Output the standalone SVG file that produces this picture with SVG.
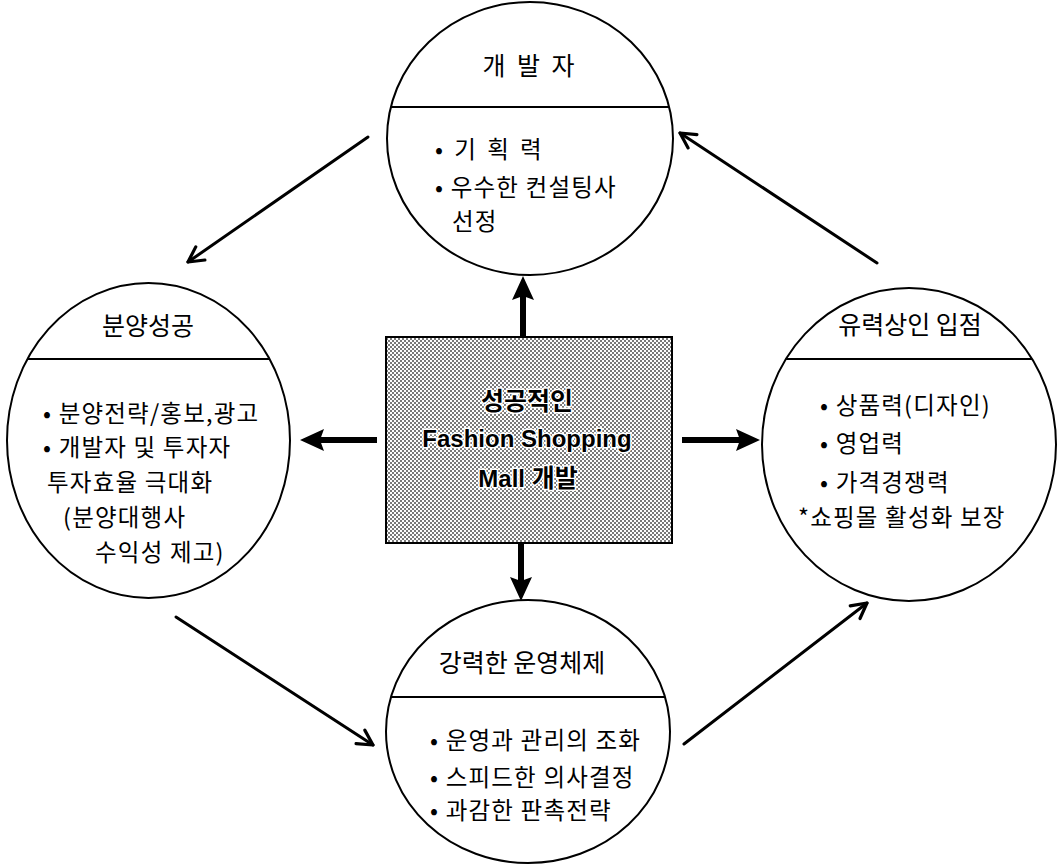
<svg xmlns="http://www.w3.org/2000/svg" width="1057" height="864" viewBox="0 0 1057 864">
<style>
.shape{fill:none;stroke:#000;stroke-width:2}
.div{stroke:#000;stroke-width:2}
.title{font-family:"Noto Sans CJK KR","Noto Sans",sans-serif;font-size:25px;fill:#000;text-anchor:middle}
.item{font-family:"Noto Sans CJK KR","Noto Sans",sans-serif;font-size:23.5px;fill:#000;letter-spacing:1.2px}
.ctext{font-family:"Liberation Sans","Noto Sans CJK KR",sans-serif;font-weight:bold;font-size:24px;fill:#000;text-anchor:middle;stroke:#fff;stroke-width:3px;paint-order:stroke;stroke-linejoin:round}
.bold{stroke:#000;stroke-width:6;fill:none}
.thin{stroke:#000;stroke-width:3;fill:none;stroke-linecap:round}
</style>
<defs>
<pattern id="dots" patternUnits="userSpaceOnUse" width="4" height="4">
<rect width="4" height="4" fill="#fff"/>
<rect x="0" y="0" width="2" height="2" fill="#7a7a7a"/>
<rect x="2" y="2" width="2" height="2" fill="#7a7a7a"/>
</pattern>
<marker id="head-bold" markerUnits="userSpaceOnUse" markerWidth="30" markerHeight="30" viewBox="-2 -13 30 26" refX="12" refY="0" orient="auto">
<path d="M0,-11 L24,0 L0,11 L4,0 Z" fill="#000"/>
</marker>
<marker id="head-open" markerUnits="userSpaceOnUse" markerWidth="24" markerHeight="24" viewBox="-18 -12 22 24" refX="0" refY="0" orient="auto">
<path d="M-15,-8 L0,0 L-15,8" fill="none" stroke="#000" stroke-width="3.2" stroke-linecap="round" stroke-linejoin="round"/>
</marker>
</defs>
<rect width="1057" height="864" fill="#fff"/>

<g id="connectors">
<line class="bold" x1="523" y1="337" x2="523" y2="288" marker-end="url(#head-bold)"/>
<line class="bold" x1="521" y1="543" x2="521" y2="589" marker-end="url(#head-bold)"/>
<line class="bold" x1="377" y1="440" x2="312" y2="440" marker-end="url(#head-bold)"/>
<line class="bold" x1="682" y1="440" x2="748" y2="440" marker-end="url(#head-bold)"/>
<line class="thin" x1="368" y1="137" x2="188" y2="262" marker-end="url(#head-open)"/>
<line class="thin" x1="877" y1="263" x2="680" y2="133" marker-end="url(#head-open)"/>
<line class="thin" x1="176" y1="617" x2="373" y2="745" marker-end="url(#head-open)"/>
<line class="thin" x1="684" y1="744" x2="867" y2="603" marker-end="url(#head-open)"/>
</g>

<g id="center">
<rect x="386" y="337" width="286" height="206" fill="url(#dots)" stroke="#000" stroke-width="2"/>
<text class="ctext" x="527" y="410" style="font-family:'Noto Sans CJK KR',sans-serif;font-size:25px">성공적인</text>
<text class="ctext" x="527" y="447">Fashion Shopping</text>
<text class="ctext" x="528" y="487">Mall <tspan style="font-family:'Noto Sans CJK KR',sans-serif;font-size:25px">개발</tspan></text>
</g>

<g id="developer">
<ellipse class="shape" cx="530" cy="138.5" rx="143" ry="136.5"/>
<line class="div" x1="391" y1="107" x2="669" y2="107"/>
<text class="title" x="530" y="75" style="letter-spacing:3px">개 발 자</text>
<text class="item" x="435" y="158" style="letter-spacing:3px">• 기 획 력</text>
<text class="item" x="435" y="196">• 우수한 컨설팅사</text>
<text class="item" x="452" y="230">선정</text>
</g>

<g id="sales">
<ellipse class="shape" cx="148.5" cy="440.5" rx="141.5" ry="157.5"/>
<line class="div" x1="27.5" y1="359" x2="269.5" y2="359"/>
<text class="title" x="148" y="335">분양성공</text>
<text class="item" x="43" y="422">• 분양전략/홍보,광고</text>
<text class="item" x="43" y="456">• 개발자 및 투자자</text>
<text class="item" x="47" y="491">투자효율 극대화</text>
<text class="item" x="63" y="526">(분양대행사</text>
<text class="item" x="95" y="561">수익성 제고)</text>
</g>

<g id="merchants">
<ellipse class="shape" cx="909" cy="444.5" rx="147" ry="156.5"/>
<line class="div" x1="786" y1="359" x2="1032" y2="359"/>
<text class="title" x="910" y="334">유력상인 입점</text>
<text class="item" x="820" y="414">• 상품력(디자인)</text>
<text class="item" x="820" y="452">• 영업력</text>
<text class="item" x="820" y="491">• 가격경쟁력</text>
<text class="item" x="798" y="526">*쇼핑몰 활성화 보장</text>
</g>

<g id="operations">
<ellipse class="shape" cx="528" cy="731.5" rx="142" ry="131.5"/>
<line class="div" x1="391" y1="697" x2="665" y2="697"/>
<text class="title" x="522" y="672">강력한 운영체제</text>
<text class="item" x="430" y="749">• 운영과 관리의 조화</text>
<text class="item" x="430" y="786">• 스피드한 의사결정</text>
<text class="item" x="430" y="819">• 과감한 판촉전략</text>
</g>
</svg>
